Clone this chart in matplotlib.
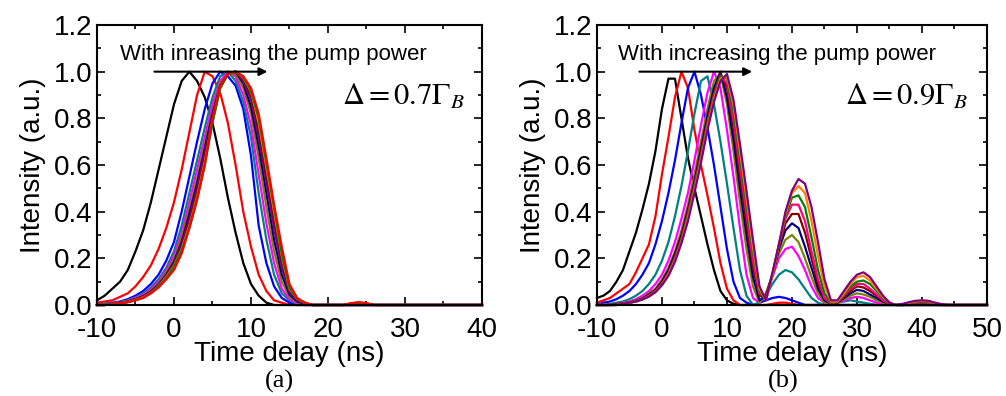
import numpy as np
import matplotlib
matplotlib.use("Agg")
import matplotlib.pyplot as plt
from matplotlib.ticker import MultipleLocator, FormatStrFormatter

# ---- data (1 ns grid, starting at t = -10 ns) ----
# panel (a): Delta = 0.7 Gamma_B
t_a = np.arange(-10, 41)
black_a = [0.02, 0.04, 0.07, 0.10, 0.15, 0.23, 0.32, 0.44, 0.58, 0.72,
           0.86, 0.96, 1.00, 0.96, 0.89, 0.78, 0.63, 0.46, 0.31, 0.18, 0.09, 0.04, 0.01]
red_a = [0.01, 0.015, 0.02, 0.035, 0.05, 0.08, 0.12, 0.17, 0.24, 0.33,
         0.44, 0.58, 0.74, 0.90, 1.00, 0.98, 0.91, 0.78, 0.60, 0.40, 0.25, 0.13, 0.06, 0.02, 0.01]
blue_a = [0, 0.005, 0.01, 0.015, 0.025, 0.04, 0.06, 0.09, 0.13, 0.19,
          0.27, 0.40, 0.55, 0.70, 0.84, 0.95, 1.00, 0.98, 0.94, 0.84, 0.64, 0.34, 0.18, 0.08, 0.03, 0.01]
teal_a = [0, 0.005, 0.008, 0.012, 0.02, 0.033, 0.05, 0.075, 0.11, 0.16,
          0.23, 0.34, 0.48, 0.62, 0.76, 0.89, 0.98, 1.00, 0.96, 0.87, 0.72, 0.48, 0.28, 0.13, 0.05, 0.02, 0.005]
magenta_a = [0, 0, 0.007, 0.011, 0.018, 0.03, 0.045, 0.068, 0.10, 0.15,
             0.21, 0.31, 0.44, 0.58, 0.72, 0.86, 0.96, 1.00, 0.98, 0.90, 0.77, 0.56, 0.35, 0.18, 0.07, 0.025, 0.008]
olive_a = [0, 0, 0.006, 0.01, 0.016, 0.027, 0.04, 0.062, 0.092, 0.14,
           0.195, 0.29, 0.41, 0.54, 0.69, 0.83, 0.95, 0.99, 0.99, 0.93, 0.82, 0.63, 0.42, 0.23, 0.10, 0.035, 0.012, 0.004]
navy_a = [0, 0, 0.006, 0.01, 0.015, 0.025, 0.038, 0.058, 0.088, 0.13,
          0.185, 0.27, 0.39, 0.52, 0.67, 0.82, 0.94, 0.99, 1.00, 0.95, 0.85, 0.68, 0.48, 0.28, 0.13, 0.045, 0.015, 0.005]
purple_a = [0, 0, 0.005, 0.009, 0.014, 0.024, 0.036, 0.056, 0.085, 0.125,
            0.178, 0.26, 0.37, 0.50, 0.65, 0.80, 0.93, 0.99, 1.00, 0.96, 0.88, 0.72, 0.53, 0.33, 0.16, 0.055, 0.02, 0.006]
wine_a = [0, 0, 0.005, 0.009, 0.013, 0.023, 0.034, 0.054, 0.083, 0.122,
          0.172, 0.25, 0.355, 0.48, 0.63, 0.79, 0.93, 0.99, 1.00, 0.97, 0.90, 0.75, 0.56, 0.37, 0.19, 0.065, 0.024, 0.008,
          0, 0, 0, 0, 0, 0.005, 0.008, 0.005]
orange_a = [0, 0, 0.005, 0.008, 0.013, 0.022, 0.033, 0.052, 0.081, 0.12,
            0.167, 0.24, 0.34, 0.465, 0.615, 0.785, 0.93, 0.99, 1.00, 0.975, 0.915, 0.78, 0.59, 0.40, 0.21, 0.07, 0.027, 0.009,
            0, 0, 0, 0, 0, 0.006, 0.01, 0.006]
green_a = [0, 0, 0.005, 0.008, 0.012, 0.021, 0.031, 0.051, 0.08, 0.115,
           0.163, 0.235, 0.33, 0.455, 0.60, 0.78, 0.93, 0.99, 1.00, 0.978, 0.92, 0.80, 0.61, 0.42, 0.22, 0.075, 0.028, 0.01,
           0, 0, 0, 0, 0, 0.007, 0.01, 0.007]
red2_a = [0, 0, 0.005, 0.008, 0.012, 0.02, 0.03, 0.05, 0.075, 0.11,
          0.15, 0.22, 0.33, 0.45, 0.60, 0.80, 0.94, 0.99, 1.00, 0.98, 0.93, 0.82, 0.63, 0.43, 0.25, 0.09, 0.03, 0.01,
          0, 0, 0, 0, 0, 0.008, 0.012, 0.008]
curves_a = [black_a, red_a, blue_a, teal_a, magenta_a, olive_a, navy_a,
            purple_a, wine_a, orange_a, green_a, red2_a]
colors_a = ['black', 'red', 'blue', '#008080', '#FF00FF', '#808000', '#000080',
            '#800080', '#800000', '#FF8000', '#008000', 'red']

# panel (b): Delta = 0.9 Gamma_B
t_b = np.arange(-10, 51)
black_b = [0.03, 0.04, 0.06, 0.10, 0.15, 0.23, 0.31, 0.41, 0.52, 0.66,
           0.84, 0.97, 0.97, 0.80, 0.63, 0.50, 0.38, 0.26, 0.15, 0.06, 0.02, 0.005]
red_b = [0.01, 0.02, 0.03, 0.05, 0.07, 0.09, 0.14, 0.20, 0.26, 0.38,
         0.56, 0.72, 0.89, 1.00, 0.93, 0.75, 0.60, 0.47, 0.33, 0.18,
         0.07, 0.02, 0, 0, 0, 0, 0, 0.005, 0.01, 0.01, 0.005]
blue_b = [0, 0.01, 0.015, 0.025, 0.04, 0.06, 0.09, 0.13, 0.18, 0.26,
          0.36, 0.48, 0.62, 0.78, 0.93, 1.00, 0.90, 0.76, 0.60, 0.42,
          0.24, 0.10, 0.03, 0.01, 0, 0.01, 0.02, 0.03, 0.035, 0.03, 0.02, 0.01]
teal_b = [0, 0, 0.005, 0.01, 0.015, 0.025, 0.04, 0.06, 0.09, 0.13,
          0.19, 0.27, 0.38, 0.51, 0.66, 0.82, 0.96, 0.98, 0.86, 0.70,
          0.52, 0.33, 0.15, 0.04, 0, 0.01, 0.04, 0.09, 0.13, 0.15,
          0.14, 0.11, 0.07, 0.03, 0.01, 0, 0.005, 0.01, 0.015, 0.02, 0.015, 0.01, 0.005]
magenta_b = [0, 0, 0, 0.005, 0.01, 0.015, 0.025, 0.04, 0.06, 0.09,
             0.13, 0.19, 0.27, 0.37, 0.48, 0.62, 0.77, 0.91, 1.00, 0.93,
             0.75, 0.55, 0.33, 0.13, 0.03, 0.01, 0.05, 0.12, 0.20, 0.24,
             0.25, 0.21, 0.15, 0.08, 0.03, 0.01, 0.005, 0.01, 0.02, 0.03, 0.035, 0.03, 0.02, 0.01, 0.005]
olive_b = [0, 0, 0, 0.005, 0.008, 0.012, 0.02, 0.03, 0.05, 0.07,
           0.11, 0.16, 0.23, 0.32, 0.43, 0.56, 0.70, 0.84, 0.96, 0.99,
           0.86, 0.66, 0.44, 0.24, 0.08, 0.01, 0.05, 0.13, 0.22, 0.28,
           0.30, 0.27, 0.20, 0.12, 0.05, 0.01, 0.005, 0.01, 0.025, 0.04,
           0.05, 0.045, 0.035, 0.02, 0.01, 0.005]
navy_b = [0, 0, 0, 0.004, 0.007, 0.011, 0.018, 0.028, 0.045, 0.065,
          0.10, 0.15, 0.22, 0.30, 0.41, 0.53, 0.67, 0.81, 0.93, 1.00,
          0.89, 0.71, 0.50, 0.30, 0.12, 0.02, 0.04, 0.13, 0.24, 0.32,
          0.35, 0.33, 0.25, 0.16, 0.07, 0.02, 0.005, 0.01, 0.03, 0.05,
          0.065, 0.06, 0.045, 0.03, 0.015, 0.005, 0, 0, 0, 0.005, 0.006, 0.005]
wine_b = [0, 0, 0, 0, 0.006, 0.01, 0.016, 0.026, 0.042, 0.062,
          0.095, 0.14, 0.21, 0.29, 0.40, 0.52, 0.65, 0.79, 0.91, 0.99,
          0.93, 0.76, 0.55, 0.35, 0.16, 0.04, 0.03, 0.13, 0.25, 0.35,
          0.39, 0.39, 0.31, 0.20, 0.09, 0.03, 0.005, 0.01, 0.035, 0.06,
          0.08, 0.075, 0.06, 0.04, 0.02, 0.005, 0, 0, 0.005, 0.008, 0.01, 0.008, 0.004]
pink_b = [0, 0, 0, 0, 0.006, 0.01, 0.015, 0.025, 0.04, 0.06,
          0.09, 0.135, 0.20, 0.28, 0.39, 0.51, 0.64, 0.78, 0.90, 0.98,
          0.95, 0.79, 0.59, 0.39, 0.19, 0.05, 0.03, 0.13, 0.26, 0.37,
          0.43, 0.43, 0.36, 0.23, 0.11, 0.03, 0.005, 0.015, 0.04, 0.07,
          0.09, 0.09, 0.07, 0.045, 0.02, 0.006, 0, 0, 0.006, 0.01, 0.012, 0.01, 0.005]
green_b = [0, 0, 0, 0, 0.005, 0.01, 0.015, 0.024, 0.038, 0.058,
           0.088, 0.13, 0.195, 0.275, 0.38, 0.50, 0.63, 0.77, 0.89, 0.98,
           0.97, 0.83, 0.63, 0.43, 0.23, 0.06, 0.02, 0.13, 0.26, 0.38,
           0.46, 0.47, 0.42, 0.29, 0.15, 0.05, 0.01, 0.015, 0.045, 0.08,
           0.10, 0.105, 0.09, 0.06, 0.03, 0.008, 0, 0, 0.008, 0.013, 0.015, 0.013, 0.006]
orange_b = [0, 0, 0, 0, 0.005, 0.01, 0.015, 0.024, 0.037, 0.056,
            0.086, 0.13, 0.19, 0.27, 0.37, 0.49, 0.62, 0.76, 0.88, 0.97,
            0.98, 0.86, 0.66, 0.46, 0.25, 0.07, 0.02, 0.13, 0.26, 0.39,
            0.48, 0.51, 0.48, 0.36, 0.21, 0.08, 0.015, 0.015, 0.05, 0.09,
            0.12, 0.125, 0.105, 0.07, 0.035, 0.01, 0, 0, 0.01, 0.016, 0.018, 0.016, 0.008]
purple_b = [0, 0, 0, 0, 0.005, 0.01, 0.015, 0.024, 0.036, 0.055,
            0.085, 0.125, 0.185, 0.265, 0.36, 0.48, 0.61, 0.75, 0.87, 0.96,
            0.99, 0.88, 0.69, 0.49, 0.28, 0.08, 0.02, 0.14, 0.26, 0.40,
            0.49, 0.54, 0.52, 0.42, 0.27, 0.11, 0.02, 0.02, 0.06, 0.10,
            0.13, 0.14, 0.12, 0.08, 0.04, 0.01, 0, 0.005, 0.012, 0.018, 0.02, 0.018, 0.01, 0.004]
curves_b = [black_b, red_b, blue_b, teal_b, magenta_b, olive_b, navy_b,
            wine_b, pink_b, green_b, orange_b, purple_b]
colors_b = ['black', 'red', 'blue', '#008080', '#FF00FF', '#808000', '#000080',
            '#800000', '#FF0080', '#008000', '#FF8000', '#800080']

plt.rcParams['font.family'] = ['Liberation Sans', 'DejaVu Sans']
plt.rcParams['mathtext.fontset'] = 'stix'
plt.rcParams['axes.unicode_minus'] = False


def pad(vals, n):
    # curves are zero after the last listed value
    return np.array(list(vals) + [0.0] * (n - len(vals)))


def style_axes(ax, xmax):
    ax.set_xlim(-10, xmax)
    ax.set_ylim(0, 1.2)
    ax.xaxis.set_major_locator(MultipleLocator(10))
    ax.xaxis.set_minor_locator(MultipleLocator(5))
    ax.yaxis.set_major_locator(MultipleLocator(0.2))
    ax.yaxis.set_minor_locator(MultipleLocator(0.1))
    ax.yaxis.set_major_formatter(FormatStrFormatter('%.1f'))
    ax.tick_params(which='both', direction='in', top=True, right=True, width=1.2)
    ax.tick_params(which='major', length=6, labelsize=20)
    ax.tick_params(axis='x', which='major', pad=8.5)
    ax.tick_params(axis='y', which='major', pad=3)
    ax.tick_params(which='minor', length=3)
    for s in ax.spines.values():
        s.set_linewidth(1.5)
    ax.set_xlabel('Time delay (ns)', fontsize=20, labelpad=-1)
    ax.set_ylabel('Intensity (a.u.)', fontsize=20, labelpad=6)


fig = plt.figure(figsize=(10.06, 3.96), dpi=100)
ax_a = fig.add_axes([0.0964, 0.2298, 0.3827, 0.7071])
ax_b = fig.add_axes([0.5934, 0.2298, 0.3877, 0.7071])

for vals, c in zip(curves_a, colors_a):
    ax_a.plot(t_a, pad(vals, len(t_a)), color=c, lw=1.6, clip_on=False)
for vals, c in zip(curves_b, colors_b):
    ax_b.plot(t_b, pad(vals, len(t_b)), color=c, lw=1.6, clip_on=False)

style_axes(ax_a, 40)
style_axes(ax_b, 50)

# annotations
ax_a.text(-7.0, 1.05, 'With inreasing the pump power', fontsize=16, va='baseline')
ax_a.annotate('', xy=(12.5, 1.0), xytext=(-2.9, 1.0),
              arrowprops=dict(arrowstyle='-|>', color='black', lw=1.5, mutation_scale=12))
ax_a.text(21.8, 0.86, r'$\Delta = 0.7\Gamma_B$', fontsize=22, va='baseline')

ax_b.text(-6.8, 1.05, 'With increasing the pump power', fontsize=16, va='baseline')
ax_b.annotate('', xy=(14.3, 1.0), xytext=(-3.9, 1.0),
              arrowprops=dict(arrowstyle='-|>', color='black', lw=1.5, mutation_scale=12))
ax_b.text(28.2, 0.86, r'$\Delta = 0.9\Gamma_B$', fontsize=22, va='baseline')

fig.text(279 / 1006, 1 - 381 / 396, '(a)', ha='center', va='center',
         family='Liberation Serif', fontsize=19)
fig.text(783 / 1006, 1 - 381 / 396, '(b)', ha='center', va='center',
         family='Liberation Serif', fontsize=19)

fig.savefig('out.png', dpi=100)
